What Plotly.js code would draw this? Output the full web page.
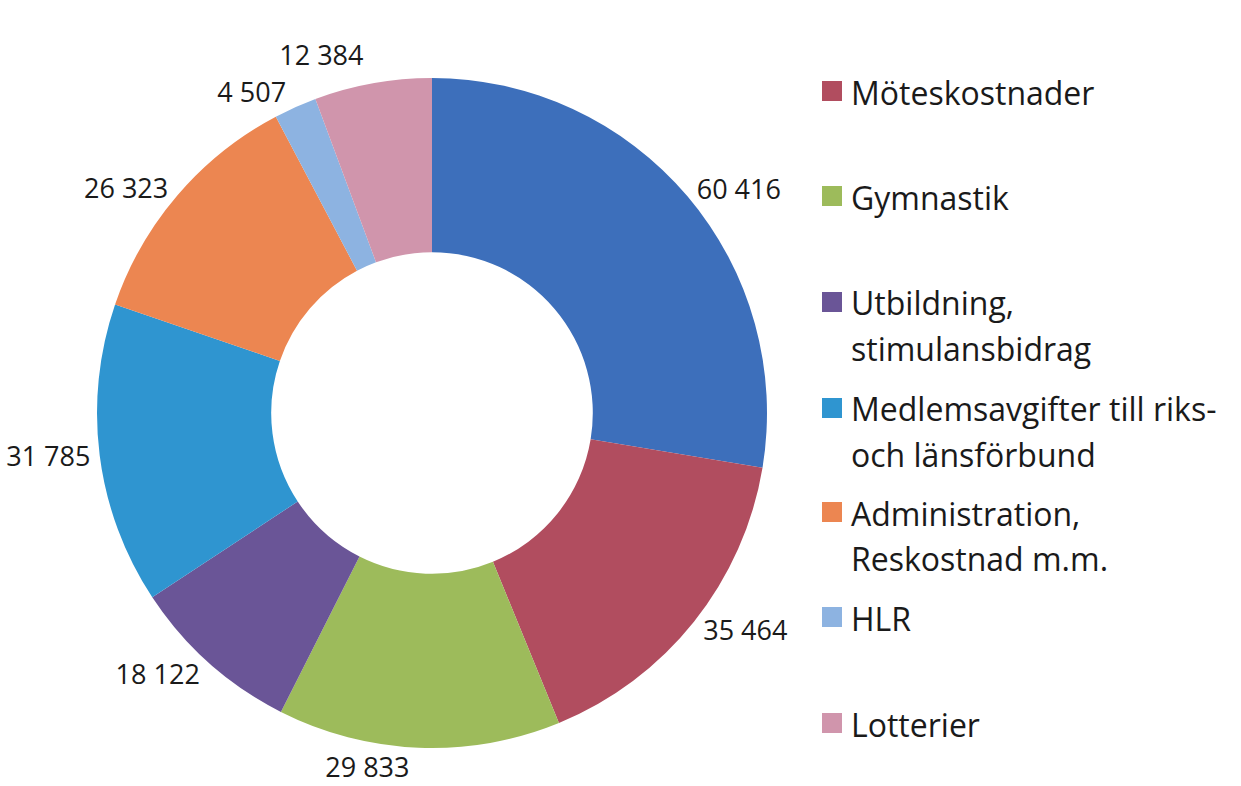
<!DOCTYPE html>
<html><head><meta charset="utf-8">
<script src="https://cdn.plot.ly/plotly-3.0.1.min.js"></script>
<style>html,body{margin:0;padding:0;background:#fff;} .textline{stroke-opacity:0 !important;}</style>
</head><body>
<div id="chart" style="width:1241px;height:786px;"></div>
<script>
const categories = ["Övrigt", "Möteskostnader", "Gymnastik", "Utbildning,<br>stimulansbidrag", "Medlemsavgifter till riks-<br>och länsförbund", "Administration,<br>Reskostnad m.m.", "HLR", "Lotterier"];
const values = [60416, 35464, 29833, 18122, 31785, 26323, 4507, 12384];
const colors = ["#3d6fbb", "#b14d5f", "#9dbb5b", "#6a5597", "#2f95d0", "#ec8651", "#8db3e1", "#d095ac"];
const legendShown = [false, true, true, true, true, true, true, true];

const W = 1241, H = 786;
const FONT = "'Open Sans', Lato, sans-serif";

const trace = {
  type: "pie",
  labels: categories,
  values: values,
  hole: 0.48,
  sort: false,
  direction: "clockwise",
  rotation: 0,
  marker: {colors: colors, line: {width: 0}},
  textposition: "outside",
  texttemplate: "%{value:,}",
  textfont: {family: FONT, size: 27, color: "#1a1a1a"},
  showlegend: false,
  hoverinfo: "label+value",
  domain: {x: [97/W, 767/W], y: [1 - 748/H, 1 - 78/H]}
};

// Manual legend built from categories/colors
const legendCenters = [null, 91, 196, 302, 408, 512, 617, 723];
const shapes = [], annotations = [];
categories.forEach((c, i) => {
  if (!legendShown[i]) return;
  const cy = legendCenters[i];
  shapes.push({type: "rect", xref: "paper", yref: "paper",
    x0: 822/W, x1: 842/W, y0: 1 - (cy + 10)/H, y1: 1 - (cy - 10)/H,
    fillcolor: colors[i], line: {width: 0}});
  c.split("<br>").forEach((line, k) => {
    annotations.push({xref: "paper", yref: "paper", x: 849/W, y: 1 - (cy + 1 + k*45)/H,
      xanchor: "left", yanchor: "middle", showarrow: false, text: line,
      font: {family: FONT, size: 32, color: "#1a1a1a"}});
  });
});

const layout = {
  width: W, height: H,
  margin: {l: 0, r: 0, t: 0, b: 0},
  paper_bgcolor: "#fff",
  separators: ", ",
  showlegend: false,
  shapes: shapes,
  annotations: annotations
};
Plotly.newPlot("chart", [trace], layout, {displayModeBar: false});
</script>
</body></html>
